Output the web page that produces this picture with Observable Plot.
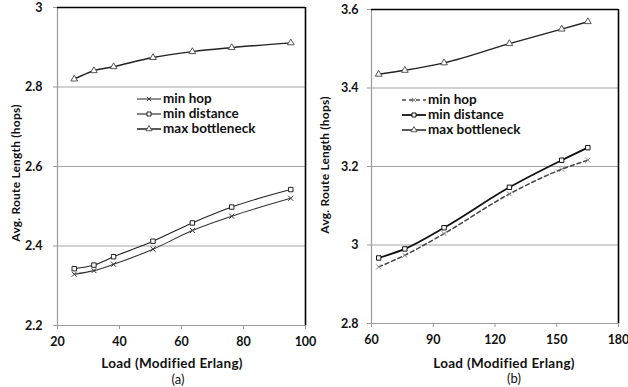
<!DOCTYPE html>
<html>
<head>
<meta charset="utf-8">
<script src="https://cdn.jsdelivr.net/npm/d3@7"></script>
<script src="https://cdn.jsdelivr.net/npm/@observablehq/plot@0.6"></script>
<style>
  html, body { margin: 0; padding: 0; background: #fff; }
  #root { position: relative; width: 628px; height: 387px; overflow: hidden; font-family: Lato, "Open Sans", sans-serif; color: #111; }
  .panel { position: absolute; top: 0; }
  .lbl { position: absolute; font-weight: 700; white-space: nowrap; }
  .legend { position: absolute; font-weight: 700; font-size: 13.5px; line-height: 15px; }
  .legend div { display: flex; align-items: center; height: 15px; }
  .legend svg { margin-right: 1px; }
</style>
</head>
<body>
<div id="root"></div>
<script>
// ---- Data: panel (a)
const seriesNames = ["min hop", "min distance", "max bottleneck"];
const loadA = [25.4, 31.75, 38.1, 50.8, 63.5, 76.2, 95.25];
const minHopA = [2.329, 2.338, 2.354, 2.392, 2.439, 2.475, 2.52];
const minDistA = [2.343, 2.352, 2.373, 2.412, 2.458, 2.498, 2.542];
const maxBotA = [2.82, 2.841, 2.851, 2.874, 2.889, 2.899, 2.911];
const xTicksA = [20, 40, 60, 80, 100];
const yTicksA = [2.2, 2.4, 2.6, 2.8, 3];

// ---- Data: panel (b)
const loadB = [63.5, 76.2, 95.25, 127, 152.4, 165.1];
const minHopB = [2.944, 2.974, 3.029, 3.13, 3.193, 3.216];
const minDistB = [2.967, 2.99, 3.044, 3.147, 3.216, 3.248];
const maxBotB = [3.435, 3.445, 3.464, 3.513, 3.55, 3.569];
const xTicksB = [60, 90, 120, 150, 180];
const yTicksB = [2.8, 3, 3.2, 3.4, 3.6];

const xLabel = "Load (Modified Erlang)";
const yLabel = "Avg. Route Length (hops)";

const root = document.getElementById("root");

function toRows(load, values, name) {
  return load.map((x, i) => ({x, y: values[i], series: name}));
}

function panel(opts) {
  const {load, vals, xTicks, yTicks, styles, left, width, mL, mR, mT, mB, yPad} = opts;
  const data = vals.map((v, i) => toRows(load, v, seriesNames[i]));
  const xd = [xTicks[0], xTicks[xTicks.length - 1]];
  const yd = [yTicks[0], yTicks[yTicks.length - 1]];
  const marks = [
    Plot.gridY(yTicks.slice(1), {stroke: "#a3a3a3", strokeOpacity: 1, strokeWidth: 1.1}),
    Plot.ruleX([xd[0]], {stroke: "#9a9a9a", strokeWidth: 1.2}),
    Plot.ruleY([yd[0]], {stroke: "#9a9a9a", strokeWidth: 1.2}),
    Plot.ruleX([xd[1]], {stroke: "#000", strokeWidth: 1.6}),
    Plot.ruleY([yd[1]], {stroke: "#000", strokeWidth: 1.6}),
    Plot.axisX(xTicks, {tickSize: 4, tickPadding: 8, stroke: "#9a9a9a", fill: "#111", fontSize: 12.5, fontWeight: 700, label: null}),
    Plot.axisY(yTicks, {tickSize: 4, tickPadding: yPad, stroke: "#9a9a9a", fill: "#111", fontSize: 12.5, fontWeight: 700, label: null,
      tickFormat: d => String(+d.toFixed(1))})
  ];
  data.forEach((rows, i) => {
    const s = styles[i];
    marks.push(Plot.line(rows, {x: "x", y: "y", stroke: s.stroke, strokeWidth: s.width, strokeDasharray: s.dash, curve: "monotone-x"}));
    marks.push(Plot.dot(rows, {x: "x", y: "y", symbol: s.symbol, r: s.r, fill: "white", stroke: s.mstroke, strokeWidth: 1}));
  });
  const chart = Plot.plot({
    width, height: 387,
    marginLeft: mL, marginRight: mR, marginTop: mT, marginBottom: mB,
    x: {domain: xd}, y: {domain: yd},
    style: {fontFamily: "Lato, 'Open Sans', sans-serif", background: "transparent", overflow: "visible"},
    marks
  });
  const wrap = document.createElement("div");
  wrap.className = "panel";
  wrap.style.left = left + "px";
  wrap.appendChild(chart);
  root.appendChild(wrap);
}

const stylesA = [
  {stroke: "#333", width: 1.1, dash: null, symbol: "times", r: 2.4, mstroke: "#333"},
  {stroke: "#222", width: 1.1, dash: null, symbol: "square", r: 2.5, mstroke: "#222"},
  {stroke: "#222", width: 1.5, dash: null, symbol: "triangle", r: 2.5, mstroke: "#555"}
];
const stylesB = [
  {stroke: "#444", width: 1.5, dash: "4,3", symbol: "times", r: 2.4, mstroke: "#888"},
  {stroke: "#111", width: 1.8, dash: null, symbol: "square", r: 2.5, mstroke: "#111"},
  {stroke: "#222", width: 1.5, dash: null, symbol: "triangle", r: 2.5, mstroke: "#555"}
];

panel({load: loadA, vals: [minHopA, minDistA, maxBotA], xTicks: xTicksA, yTicks: yTicksA, styles: stylesA,
  left: 0, width: 314, mL: 57, mR: 9, mT: 7, mB: 62, yPad: 11});
panel({load: loadB, vals: [minHopB, minDistB, maxBotB], xTicks: xTicksB, yTicks: yTicksB, styles: stylesB,
  left: 314, width: 314, mL: 57, mR: 10, mT: 9, mB: 64, yPad: 9});

function label(text, x, y, size, weight, rotate, ls) {
  const d = document.createElement("div");
  d.className = "lbl";
  d.textContent = text;
  d.style.fontSize = size + "px";
  d.style.fontWeight = weight;
  if (ls) d.style.letterSpacing = ls + "px";
  d.style.left = x + "px";
  d.style.top = y + "px";
  d.style.transform = "translate(-50%,-50%)" + (rotate ? " rotate(-90deg)" : "");
  root.appendChild(d);
}
label(xLabel, 172, 363, 13.5, 700, false, 0.3);
label("(a)", 178, 379, 13, 400);
label(xLabel, 504, 363, 13.5, 700, false, 0.3);
label("(b)", 514, 378, 13, 400);
label(yLabel, 15, 173, 12, 700, true, 0.2);
label(yLabel, 324, 165, 12, 700, true, 0.2);

function legend(x, y, styles) {
  const lg = document.createElement("div");
  lg.className = "legend";
  lg.style.left = x + "px";
  lg.style.top = y + "px";
  seriesNames.forEach((name, i) => {
    const s = styles[i];
    const row = document.createElement("div");
    const svg = d3.create("svg").attr("width", 26).attr("height", 10);
    svg.append("line").attr("x1", 1).attr("x2", 25).attr("y1", 5).attr("y2", 5)
      .attr("stroke", s.stroke).attr("stroke-width", s.width).attr("stroke-dasharray", s.dash);
    const sym = d3.symbol(s.symbol === "times" ? d3.symbolTimes : s.symbol === "square" ? d3.symbolSquare : d3.symbolTriangle,
      s.symbol === "times" ? 14 : 16);
    svg.append("path").attr("d", sym()).attr("transform", "translate(13,5)")
      .attr("fill", "white").attr("stroke", s.mstroke).attr("stroke-width", 1);
    row.appendChild(svg.node());
    const t = document.createElement("span");
    t.textContent = name;
    row.appendChild(t);
    lg.appendChild(row);
  });
  root.appendChild(lg);
}
legend(136, 91, stylesA);
legend(401, 92, stylesB);
</script>
</body>
</html>
